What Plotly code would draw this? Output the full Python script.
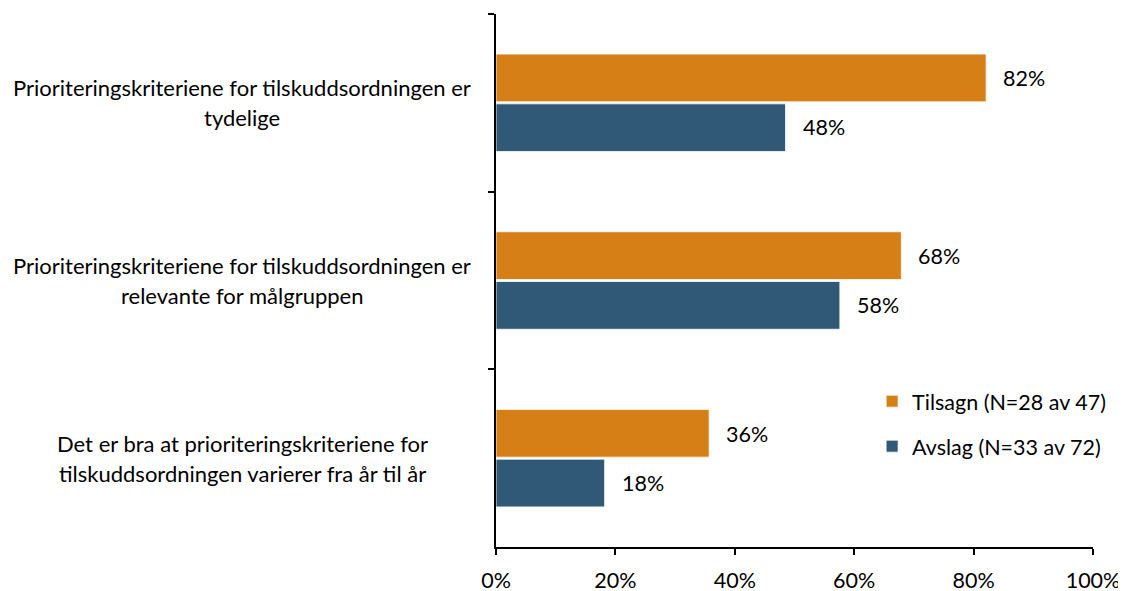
import plotly.graph_objects as go

categories = [
    "Prioriteringskriteriene for tilskuddsordningen er<br>tydelige",
    "Prioriteringskriteriene for tilskuddsordningen er<br>relevante for målgruppen",
    "Det er bra at prioriteringskriteriene for<br>tilskuddsordningen varierer fra år til år",
]
series_names = ["Tilsagn (N=28 av 47)", "Avslag (N=33 av 72)"]
tilsagn = [82.1, 67.9, 35.7]
avslag = [48.5, 57.6, 18.2]
colors = ["#D77F17", "#305877"]
x_ticks = [0, 20, 40, 60, 80, 100]
x_ticklabels = [f"{v}%" for v in x_ticks]

FONT = "Lato"
FS_CAT = 22
FS = 21.5

fig = go.Figure()
for name, vals, col in zip(series_names, [tilsagn, avslag], colors):
    fig.add_trace(go.Bar(
        y=categories, x=vals, name=name, orientation="h",
        marker=dict(color=col, line=dict(color="white", width=0.8)),
        legendgroup=name,
    ))

annotations = []
# category labels (centered multi-line)
for cat in categories:
    lines = cat.split("<br>")
    n = len(lines)
    for i, ln in enumerate(lines):
        annotations.append(dict(
            x=0, xref="paper", xanchor="center", xshift=-254,
            y=cat, yref="y", yanchor="middle",
            yshift=(n - 1) / 2 * 30 - i * 30,
            text=ln, showarrow=False,
            font=dict(family=FONT, size=FS_CAT, color="black"),
        ))
# value labels
for vals, ysh in [(tilsagn, 24.5), (avslag, -24.5)]:
    for cat, v in zip(categories, vals):
        annotations.append(dict(
            x=v, xref="x", xanchor="left", xshift=15,
            y=cat, yref="y", yanchor="middle", yshift=ysh,
            text=f"{round(v)}%", showarrow=False,
            font=dict(family=FONT, size=FS, color="black"),
        ))

fig.update_layout(
    width=1126, height=591,
    margin=dict(l=488, r=41, t=6, b=50),
    paper_bgcolor="white", plot_bgcolor="white",
    barmode="group", bargap=0.44, bargroupgap=0.04,
    font=dict(family=FONT, size=FS, color="black"),
    showlegend=True,
    legend=dict(
        x=0.63, y=0.312, xanchor="left", yanchor="top",
        traceorder="grouped", tracegroupgap=14,
        font=dict(family=FONT, size=FS, color="black"),
        bgcolor="rgba(0,0,0,0)", itemwidth=30,
    ),
    annotations=annotations,
)
fig.update_xaxes(
    range=[0, 100], tickvals=x_ticks, ticktext=x_ticklabels,
    showline=True, linecolor="black", linewidth=1.5,
    ticks="outside", ticklen=6, tickcolor="black", tickwidth=1.5,
    ticklabelstandoff=7,
    showgrid=False, zeroline=False,
    tickfont=dict(family=FONT, size=FS, color="black"),
)
fig.update_yaxes(
    categoryorder="array", categoryarray=categories, autorange="reversed",
    showline=True, linecolor="black", linewidth=1.5,
    ticks="outside", ticklen=6, tickcolor="black", tickwidth=1.5,
    tickson="boundaries", showticklabels=False,
    showgrid=False, zeroline=False,
)

fig.write_html("out.html")
